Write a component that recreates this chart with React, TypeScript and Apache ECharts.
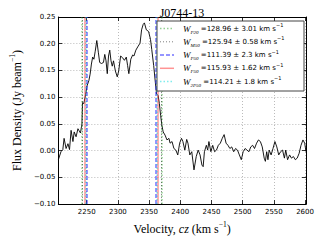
import React, { useEffect, useRef } from "react";
import * as echarts from "echarts";

const velocity = [
  2204.6, 2208.8, 2211.8, 2213.8, 2217, 2220, 2222.5, 2225, 2228, 2230, 2233, 2236, 2238, 2240,
  2242.4, 2243.3, 2245.4, 2248.5, 2250.5, 2253.5, 2255.5, 2257.6, 2259.6, 2261.6, 2263.7, 2266.2,
  2268.8, 2270.8, 2273.8, 2276.9, 2279, 2281, 2283, 2285, 2287, 2289, 2291, 2293, 2296, 2299,
  2301.3, 2304.4, 2307.4, 2310.5, 2313.5, 2315.6, 2317.6, 2320.7, 2323.7, 2325.7, 2328.8, 2331.8,
  2335.5, 2338, 2340.5, 2342.5, 2345.6, 2349.2, 2352.3, 2354.3, 2357.4, 2360, 2362, 2364.5, 2366.5,
  2368.5, 2370.6, 2372.6, 2375.6, 2378.7, 2381.8, 2383.7, 2386.8, 2389.8, 2392.9, 2396, 2399, 2402,
  2404.2, 2407.3, 2410.3, 2412.3, 2415.3, 2418.4, 2422, 2425.6, 2428.7, 2431.7, 2434.7, 2436.7,
  2438.7, 2441.8, 2443.9, 2445.9, 2449, 2452, 2455, 2458, 2461, 2464.2, 2467.3, 2470.3, 2473.4,
  2476.4, 2479.5, 2482.5, 2485.6, 2488.6, 2491.7, 2494.7, 2497.8, 2500.8, 2503.9, 2506.9, 2510,
  2513, 2516, 2519, 2522.3, 2525.3, 2528.4, 2531.4, 2534.5, 2536.4, 2538.5, 2540.5, 2542.5, 2545.6,
  2548.6, 2551.7, 2554.7, 2557.8, 2560.8, 2563.9, 2566.9, 2569, 2572, 2575.2, 2578.2, 2581.3,
  2584.4, 2587.4, 2590.5, 2593.5, 2596.6, 2599.4, 2601.5,
];
const flux = [
  -0.017, -0.002, 0.002, 0.023, 0.004, 0.013, 0.002, 0.038, 0.017, 0.035, 0.026, 0.041, 0.037, 0.033,
  0.05, 0.09, 0.088, 0.106, 0.121, 0.131, 0.143, 0.162, 0.175, 0.171, 0.186, 0.206,
  0.183, 0.165, 0.163, 0.165, 0.18, 0.168, 0.144, 0.177, 0.188, 0.168, 0.158, 0.168, 0.149, 0.138,
  0.149, 0.177, 0.174, 0.169, 0.175, 0.159, 0.144, 0.171, 0.179, 0.177, 0.188, 0.194,
  0.201, 0.226, 0.236, 0.239, 0.226, 0.223, 0.208, 0.189, 0.159, 0.128, 0.106, 0.103, 0.088,
  0.066, 0.047, 0.035, 0.029, 0.02, 0.023, 0.014, 0.017, 0.004, 0.001, -0.008, 0.014, 0.023,
  0.017, 0.001, 0.021, 0.014, -0.008, -0.002, -0.036, -0.011, 0.001, -0.008, -0.027, -0.03,
  -0.002, 0.01, 0.001, 0.017, -0.002, 0.01, -0.002, 0.001, 0.01, 0.014, 0.023, 0.03, 0.014,
  0.01, 0.004, 0.007, -0.002, 0.004, 0.001, -0.008, -0.017, -0.002, 0.004, 0.001, -0.002,
  0.007, 0.01, 0.004, 0.014, 0.02, 0.017, 0.007, -0.014, -0.02, -0.002, -0.017, 0.001, -0.008,
  0.004, 0.017, 0.007, -0.008, -0.002, 0.001, -0.014, 0.001, -0.017, -0.008, -0.014, -0.011,
  -0.017, -0.014, -0.005, 0.01, 0.02, 0.014, -0.002,
];

const widthNames = ["P20", "M50", "P50", "F50", "2P50"];
const widthValues = ["128.96", "125.94", "111.39", "115.93", "114.21"];
const widthErrors = ["3.01", "0.58", "2.3", "1.62", "1.8"];
const edgeLow = [2241.8, 2243.2, 2249.5, 2247.6, 2248.5];
const edgeHigh = [2370.8, 2369.1, 2360.9, 2363.5, 2362.7];

const xTicks = [2250, 2300, 2350, 2400, 2450, 2500, 2550, 2600];
const yTicks = [-0.1, -0.05, 0, 0.05, 0.1, 0.15, 0.2, 0.25];

const lineStyles = [
  { color: "rgba(60,170,60,0.55)", type: [1.5, 2], width: 1.5 },
  { color: "rgba(0,0,0,0.5)", type: [1, 2], width: 1 },
  { color: "rgba(40,40,255,0.65)", type: [4, 2], width: 1.5 },
  { color: "rgba(255,40,40,0.5)", type: "solid", width: 1.5 },
  { color: "rgba(0,220,220,0.5)", type: [1.5, 2], width: 1.5 },
];

export default function App() {
  const ref = useRef<HTMLDivElement>(null);
  useEffect(() => {
    if (!ref.current) return;
    const chart = echarts.init(ref.current, null, { renderer: "svg" });
    const gridL = 46, gridR = 306, gridT = 17, gridB = 206;
    const tickFont = { fontFamily: "DejaVu Sans", fontSize: 7, color: "#000" };
    const split = { show: true, lineStyle: { color: "#aaa", type: [1, 2], width: 0.8 } };
    const axLine = { show: true, onZero: false, lineStyle: { color: "#000", width: 1 } };
    const tick = { show: true, inside: true, length: 4, lineStyle: { color: "#000", width: 0.8 } };
    const xMin = 2204.6, xMax = 2601.5;
    const yMin = yTicks[0], yMax = yTicks[yTicks.length - 1];

    const series: any[] = [
      {
        type: "line",
        data: velocity.map((v, i) => [v, flux[i]]),
        showSymbol: false,
        symbol: "none",
        lineStyle: { color: "#000", width: 0.9 },
        z: 3,
      },
    ];
    widthNames.forEach((n, i) => {
      series.push({
        type: "line",
        name: n,
        data: [],
        markLine: {
          silent: true,
          symbol: "none",
          label: { show: false },
          lineStyle: lineStyles[i],
          data: [{ xAxis: edgeLow[i] }, { xAxis: edgeHigh[i] }],
        },
        z: 4,
      });
    });

    const legendX = 157, legendY = 21, legendW = 147, legendH = 70;
    const rowY = [28.5, 41.8, 55, 68.3, 81.6];
    const legendEls: any[] = [
      {
        type: "rect",
        shape: { x: legendX, y: legendY, width: legendW, height: legendH },
        style: { fill: "#fff", stroke: "#444", lineWidth: 1 },
        z: 100,
      },
    ];
    widthNames.forEach((n, i) => {
      const ls = lineStyles[i];
      legendEls.push({
        type: "line",
        shape: { x1: 160, y1: rowY[i], x2: 174, y2: rowY[i] },
        style: {
          stroke: ls.color,
          lineWidth: ls.width,
          lineDash: ls.type === "solid" ? null : ls.type,
        },
        z: 101,
      });
      legendEls.push({
        type: "text",
        x: 183,
        y: rowY[i],
        style: {
          text:
            "{w|W}{s|" + n + "}{t| =" + widthValues[i] + " ± " + widthErrors[i] + " km s}{p|−1}",
          verticalAlign: "middle",
          rich: {
            w: { fontFamily: "Liberation Serif", fontStyle: "italic", fontSize: 9, lineHeight: 12, verticalAlign: "middle", fill: "#000" },
            s: { fontFamily: "Liberation Serif", fontStyle: "italic", fontSize: 5, lineHeight: 12, verticalAlign: "bottom", fill: "#000" },
            t: { fontFamily: "DejaVu Sans", fontSize: 7, lineHeight: 12, verticalAlign: "middle", fill: "#000" },
            p: { fontFamily: "DejaVu Sans", fontSize: 5, lineHeight: 12, verticalAlign: "top", fill: "#000" },
          },
        },
        z: 101,
      });
    });

    const nameRich = {
      a: { fontFamily: "Liberation Serif", fontSize: 12, lineHeight: 15, verticalAlign: "bottom", color: "#000" },
      i: { fontFamily: "Liberation Serif", fontStyle: "italic", fontSize: 12, lineHeight: 15, verticalAlign: "bottom", color: "#000" },
      p: { fontFamily: "Liberation Serif", fontSize: 7.5, lineHeight: 15, verticalAlign: "top", color: "#000" },
    };

    chart.setOption({
      animation: false,
      title: {
        text: "J0744-13",
        left: 177,
        top: 2,
        textAlign: "center",
        textStyle: { fontFamily: "Liberation Serif", fontSize: 12, fontWeight: "normal", color: "#000" },
      },
      grid: { left: gridL, right: 320 - gridR, top: gridT, bottom: 240 - gridB },
      xAxis: [
        {
          type: "value",
          min: xMin,
          max: xMax,
          splitNumber: 8,
          axisLine: axLine,
          axisTick: tick,
          splitLine: split,
          axisLabel: {
            ...tickFont,
            margin: 4,
            showMinLabel: false,
            formatter: (v: number) => (xTicks.indexOf(v) >= 0 ? String(v) : ""),
          },
          name: "{a|Velocity, }{i|cz}{a| (km s}{p|−1}{a|)}",
          nameLocation: "middle",
          nameGap: 12,
          nameTextStyle: { rich: nameRich },
        },
        {
          type: "value",
          position: "top",
          min: xMin,
          max: xMax,
          splitNumber: 8,
          axisLine: axLine,
          axisTick: tick,
          splitLine: { show: false },
          axisLabel: { show: false },
        },
      ],
      yAxis: [
        {
          type: "value",
          min: yMin,
          max: yMax,
          interval: 0.05,
          axisLine: axLine,
          axisTick: tick,
          splitLine: split,
          axisLabel: {
            ...tickFont,
            margin: 3,
            formatter: (v: number) => v.toFixed(2).replace("-", "−"),
          },
          name: "{a|Flux Density (Jy beam}{p|−1}{a|)}",
          nameLocation: "middle",
          nameGap: 24,
          nameTextStyle: { rich: nameRich },
        },
        {
          type: "value",
          position: "right",
          min: yMin,
          max: yMax,
          interval: 0.05,
          axisLine: axLine,
          axisTick: tick,
          splitLine: { show: false },
          axisLabel: { show: false },
        },
      ],
      graphic: legendEls,
      series,
    });
    return () => chart.dispose();
  }, []);
  return (
    <div
      ref={ref}
      style={{ position: "absolute", left: 0, top: 0, width: 320, height: 240 }}
    />
  );
}
